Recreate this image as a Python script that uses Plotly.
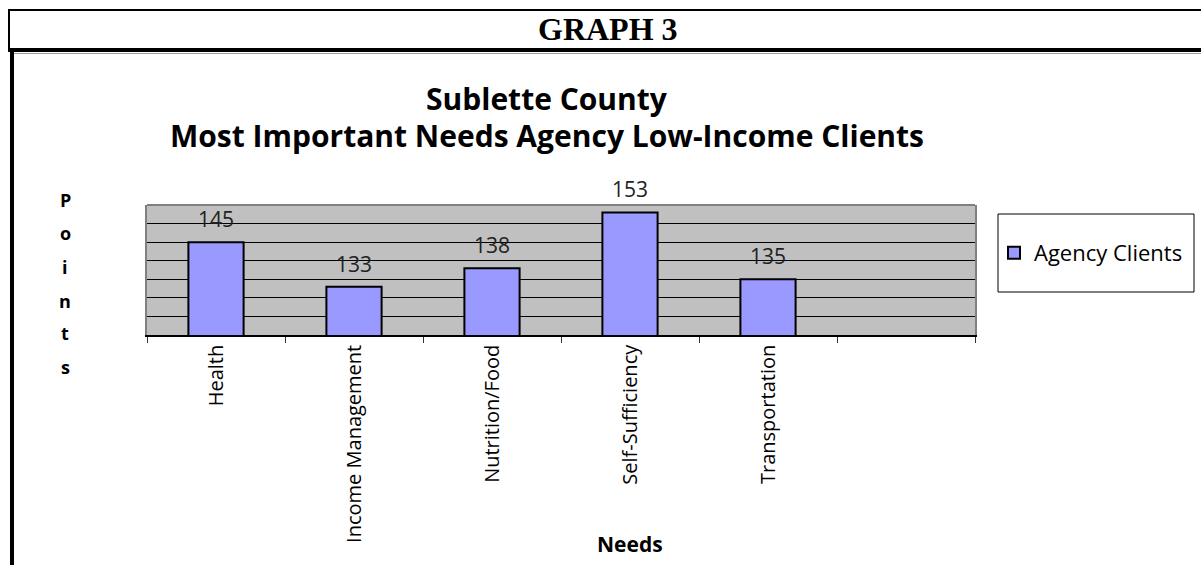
import plotly.graph_objects as go

W, H = 1201, 565

categories = ["Health", "Income Management", "Nutrition/Food", "Self-Sufficiency", "Transportation", " "]
values = [145, 133, 138, 153, 135, None]
series_name = "Agency Clients"
title_lines = ["Sublette County", "Most Important Needs Agency Low-Income Clients"]
y_title_letters = list("Points")
x_title = "Needs"
header = "GRAPH 3"
grid_vals = [125, 130, 135, 140, 145, 150]


def px(x):
    return x / W


def py(y):
    return 1 - y / H


fig = go.Figure()
fig.add_trace(go.Bar(
    x=categories, y=values, name=series_name, width=0.4,
    marker=dict(color="#9999FF", line=dict(color="black", width=2)),
    showlegend=True,
))

annotations = []
for c, v in zip(categories, values):
    if v is None:
        continue
    annotations.append(dict(x=c, y=v, xref="x", yref="y", text=str(v), showarrow=False,
                            yanchor="middle", xanchor="center",
                            yshift=23, font=dict(family="Open Sans", size=21, color="#222")))


def label(x, y, text, size, family="Open Sans"):
    return dict(x=px(x), y=py(y), xref="paper", yref="paper", text=text, showarrow=False,
                xanchor="center", yanchor="middle",
                font=dict(family=family, size=size, color="black"))


annotations.append(label(547, 98, "<b>%s</b>" % title_lines[0], 30))
annotations.append(label(547, 135, "<b>%s</b>" % title_lines[1], 30))
letter_y = [200, 233, 267, 301, 333, 367]
for ch, yy in zip(y_title_letters, letter_y):
    annotations.append(label(65, yy, "<b>%s</b>" % ch, 18))
annotations.append(label(630, 544, "<b>%s</b>" % x_title, 21))
annotations.append(label(608, 29, "<b>%s</b>" % header, 32, family="Liberation Serif"))

shapes = [
    dict(type="line", xref="paper", yref="paper", x0=px(8), x1=1, y0=py(10), y1=py(10),
         line=dict(color="black", width=2)),
    dict(type="line", xref="paper", yref="paper", x0=px(9), x1=px(9), y0=py(10), y1=py(50),
         line=dict(color="black", width=2)),
    dict(type="line", xref="paper", yref="paper", x0=px(14), x1=1, y0=py(53.5), y1=py(53.5),
         line=dict(color="#9a9a9a", width=1)),
    dict(type="line", xref="paper", yref="paper", x0=px(8), x1=1, y0=py(50), y1=py(50),
         line=dict(color="black", width=4)),
    dict(type="line", xref="paper", yref="paper", x0=px(12), x1=px(12), y0=py(50), y1=0,
         line=dict(color="black", width=4)),
    dict(type="line", xref="x domain", yref="y domain", x0=0, x1=1, y0=1, y1=1,
         line=dict(color="#808080", width=2)),
    dict(type="rect", xref="paper", yref="paper", x0=px(998), x1=px(1194), y0=py(214), y1=py(292),
         line=dict(color="black", width=1), fillcolor="rgba(0,0,0,0)"),
]

fig.update_layout(
    width=W, height=H,
    margin=dict(l=0, r=0, t=0, b=0),
    paper_bgcolor="white",
    plot_bgcolor="#C0C0C0",
    font=dict(family="Open Sans", color="black"),
    xaxis=dict(domain=[px(147), px(975)], type="category", categoryorder="array",
               categoryarray=categories, range=[-0.5, 5.5], tickson="boundaries",
               ticks="outside", ticklen=6, tickcolor="#333", tickangle=-90,
               showline=True, linecolor="black", linewidth=1.5, showgrid=False,
               tickfont=dict(family="Open Sans", size=20, color="black")),
    yaxis=dict(domain=[py(335), py(205)], range=[120, 155], tickmode="array", tickvals=grid_vals,
               showticklabels=False, showgrid=True, gridcolor="black", gridwidth=1,
               showline=True, linecolor="#808080", linewidth=2, mirror=True, zeroline=False, ticks=""),
    legend=dict(x=px(994), y=py(253), xanchor="left", yanchor="middle",
                bgcolor="rgba(0,0,0,0)", borderwidth=0,
                font=dict(family="Open Sans", size=22, color="black")),
    annotations=annotations,
    shapes=shapes,
    bargap=0.6,
)

fig.write_html("out.html", config={"displayModeBar": False},
               post_script="document.body.style.margin='0';document.body.style.overflow='hidden';")
